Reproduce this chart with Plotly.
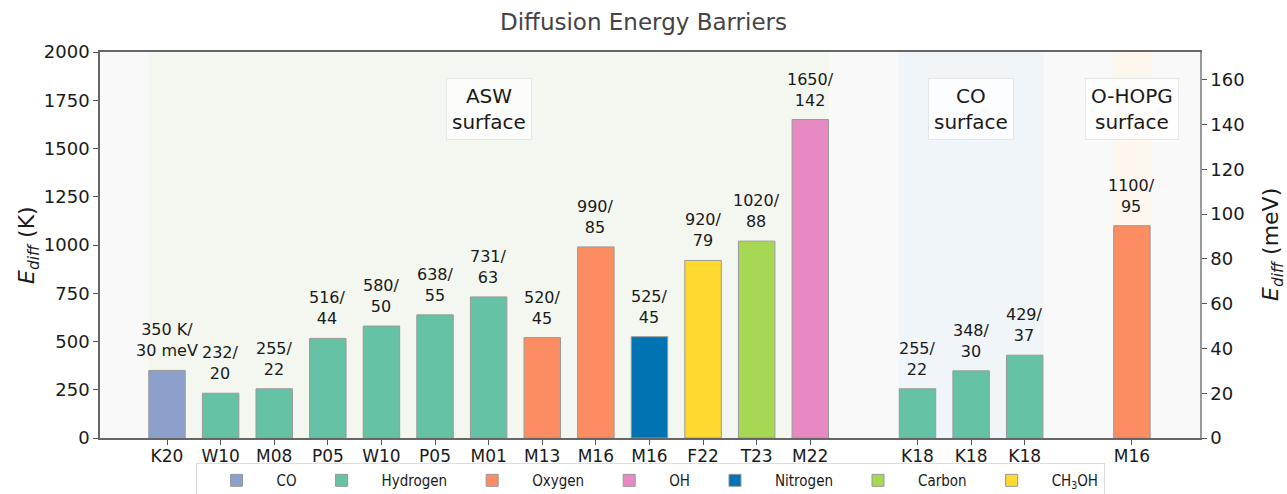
import plotly.graph_objects as go

# ---- data ----
labels = ["K20", "W10", "M08", "P05", "W10", "P05", "M01", "M13", "M16", "M16",
          "F22", "T23", "M22", "K18", "K18", "K18", "M16"]
positions = [0, 1, 2, 3, 4, 5, 6, 7, 8, 9, 10, 11, 12, 14, 15, 16, 18]
ediff_K = [350, 232, 255, 516, 580, 638, 731, 520, 990, 525, 920, 1020, 1650,
           255, 348, 429, 1100]
ediff_meV = [30, 20, 22, 44, 50, 55, 63, 45, 85, 45, 79, 88, 142, 22, 30, 37, 95]
species = ["CO", "Hydrogen", "Hydrogen", "Hydrogen", "Hydrogen", "Hydrogen", "Hydrogen",
           "Oxygen", "Oxygen", "Nitrogen", "CH3OH", "Carbon", "OH",
           "Hydrogen", "Hydrogen", "Hydrogen", "Oxygen"]
species_order = ["CO", "Hydrogen", "Oxygen", "OH", "Nitrogen", "Carbon", "CH3OH"]
species_names = {"CH3OH": "CH<sub>3</sub>OH"}
colors = {"CO": "#8da0cb", "Hydrogen": "#66c2a5", "Oxygen": "#fc8d62", "OH": "#e78ac3",
          "Nitrogen": "#0173b2", "Carbon": "#a6d854", "CH3OH": "#ffd92f"}
regions = [("ASW<br>surface", -0.35, 12.35, 6, "#f4f7f0"),
           ("CO<br>surface", 13.65, 16.35, 15, "#eff5f9"),
           ("O-HOPG<br>surface", 17.65, 18.35, 18, "#fdf7ee")]
K_TO_MEV = 0.0861733

FONT = "DejaVu Sans"
TXT = "#1a1a1a"

fig = go.Figure()
for sp in species_order:
    xs = [p for p, s in zip(positions, species) if s == sp]
    ys = [v for v, s in zip(ediff_K, species) if s == sp]
    fig.add_trace(go.Bar(
        x=xs, y=ys, name=species_names.get(sp, sp), width=0.68,
        marker=dict(color=colors[sp], line=dict(color="#999999", width=1)),
    ))

# invisible trace on secondary axis
fig.add_trace(go.Scatter(x=[positions[0]], y=[0], yaxis="y2", mode="markers",
                         marker=dict(opacity=0), showlegend=False, hoverinfo="skip"))

# bar labels
for i, (p, k, m) in enumerate(zip(positions, ediff_K, ediff_meV)):
    txt = f"{k} K/<br>{m} meV" if i == 0 else f"{k}/<br>{m}"
    fig.add_annotation(x=p, y=k, text=txt, showarrow=False, yanchor="bottom",
                       yshift=8, font=dict(size=16, color=TXT, family=FONT))

# region shading + labels
shapes = []
for name, x0, x1, xc, col in regions:
    shapes.append(dict(type="rect", xref="x", yref="paper", x0=x0, x1=x1, y0=0, y1=1,
                       fillcolor=col, line=dict(width=0), layer="below"))
    fig.add_annotation(x=xc, y=1705, text=name, showarrow=False,
                       font=dict(size=20, color=TXT, family=FONT),
                       bgcolor="rgba(255,255,255,0.75)", bordercolor="#e6e6e6",
                       borderwidth=1, borderpad=5)

# axis titles as annotations
fig.add_annotation(xref="paper", yref="paper", x=0, y=0.5, xshift=-72,
                   xanchor="center", yanchor="middle",
                   text="<i>E</i><sub><i>diff</i></sub> (K)", textangle=-90,
                   showarrow=False, font=dict(size=22, family=FONT, color=TXT))
fig.add_annotation(xref="paper", yref="paper", x=1, y=0.5, xshift=72,
                   xanchor="center", yanchor="middle",
                   text="<i>E</i><sub><i>diff</i></sub> (meV)", textangle=-90,
                   showarrow=False, font=dict(size=22, family=FONT, color=TXT))

fig.update_layout(
    width=1287, height=494,
    margin=dict(l=100, r=87, t=52, b=56, autoexpand=False),
    paper_bgcolor="white", plot_bgcolor="#f9f9f9",
    title=dict(text="Diffusion Energy Barriers", x=0.5, xanchor="center",
               y=1 - 22 / 494, yanchor="middle", yref="container",
               font=dict(size=23, color="#444444", family=FONT)),
    font=dict(family=FONT, color=TXT),
    barmode="overlay",
    shapes=shapes,
    showlegend=True,
    legend=dict(orientation="h", x=0.5, xanchor="center", y=-0.065, yanchor="top",
                bordercolor="#dddddd", borderwidth=1, bgcolor="white",
                font=dict(size=15, family="DejaVu Sans Condensed", color=TXT),
                itemwidth=70, tracegroupgap=0),
    xaxis=dict(range=[-1.25, 19.27], tickmode="array", tickvals=positions, ticktext=labels,
               ticks="outside", ticklen=5, tickcolor="#555555", showgrid=False,
               zeroline=False, showline=True, linecolor="#666666", linewidth=1.5,
               mirror=True, automargin=False, ticklabelstandoff=-3,
               tickfont=dict(size=17, family=FONT, color=TXT)),
    yaxis=dict(range=[0, 2000], tickvals=list(range(0, 2001, 250)), ticks="outside",
               ticklen=5, tickcolor="#555555", showgrid=False, zeroline=False,
               showline=True, linecolor="#666666", linewidth=1.5, automargin=False,
               tickfont=dict(size=18, family=FONT, color=TXT)),
    yaxis2=dict(range=[0, 2000 * K_TO_MEV], overlaying="y", side="right",
                tickvals=list(range(0, 161, 20)), ticks="outside", ticklen=5,
                tickcolor="#555555", showgrid=False, zeroline=False, showline=True,
                linecolor="#999999", linewidth=1.5, automargin=False,
                tickfont=dict(size=18, family=FONT, color=TXT)),
)

fig.write_html("out.html", config={"displayModeBar": False},
               post_script="document.body.style.margin='0';")
